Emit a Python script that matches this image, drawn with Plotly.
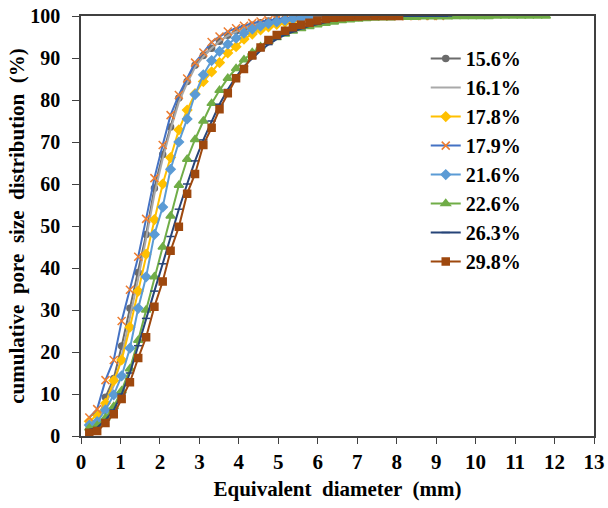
import plotly.graph_objects as go

# Equivalent diameter grid (mm) shared by all series (each uses a prefix)
diameter = [0.21, 0.41, 0.62, 0.83, 1.03, 1.24, 1.45, 1.65, 1.86, 2.07,
            2.27, 2.48, 2.69, 2.89, 3.10, 3.31, 3.51, 3.72, 3.93, 4.13,
            4.34, 4.55, 4.75, 4.96, 5.17, 5.37, 5.58, 5.79, 5.99, 6.20,
            6.41, 6.61, 6.82, 7.03, 7.23, 7.44, 7.65, 7.85, 8.06, 8.26,
            8.47, 8.68, 8.88, 9.09, 9.30, 9.50, 9.71, 9.92, 10.12, 10.33,
            10.54, 10.74, 10.95, 11.16, 11.36, 11.57, 11.78]

labels = ["15.6%", "16.1%", "17.8%", "17.9%", "21.6%", "22.6%", "26.3%", "29.8%"]

s156 = [2.4, 3.0, 9.2, 13.7, 21.4, 30.4, 38.9, 48.0, 59.0, 67.0, 73.6, 80.5, 84.4, 88.3, 90.6,
        92.3, 94.0, 95.4, 96.4, 97.2, 97.8, 98.4, 98.8, 99.1, 99.4, 99.6, 99.8, 99.9, 100, 100, 100]
s161 = [2.0, 2.8, 7.5, 12.0, 19.0, 28.0, 37.5, 47.0, 57.5, 66.0, 73.0, 79.5, 84.0, 87.8, 90.3,
        92.3, 94.0, 95.3, 96.3, 97.1, 97.8, 98.3, 98.7, 99.0, 99.3, 99.5, 99.7, 99.8, 99.9, 100, 100]
s178 = [3.5, 5.0, 7.8, 13.2, 18.1, 25.9, 34.5, 43.3, 51.5, 60.0, 66.3, 72.9, 77.6, 81.5, 84.4,
        86.7, 88.9, 91.2, 92.7, 94.5, 95.7, 96.7, 97.4, 98.0, 98.5, 98.9, 99.2, 99.5, 99.7, 99.8,
        99.9, 100, 100, 100]
s179 = [4.4, 6.4, 13.3, 18.1, 27.4, 34.8, 42.7, 51.7, 61.4, 69.3, 76.4, 81.2, 85.1, 88.9, 91.3,
        93.8, 95.1, 96.3, 97.1, 97.7, 98.3, 98.7, 99.0, 99.3, 99.5, 99.6, 99.7, 99.8, 99.9, 100,
        100, 100, 100, 100, 100, 100, 100, 100, 100, 100, 100, 100, 100, 100]
s216 = [2.6, 3.4, 6.2, 9.8, 14.3, 20.9, 30.4, 37.9, 48.0, 54.5, 63.5, 70.0, 75.5, 81.3, 86.0,
        89.4, 91.6, 93.3, 94.7, 95.9, 96.9, 97.6, 98.2, 98.6, 99.0, 99.3, 99.5, 99.7, 99.8, 99.9,
        100, 100]
s226 = [1.9, 2.5, 4.3, 7.0, 10.8, 16.0, 22.8, 30.0, 37.9, 45.0, 52.4, 59.7, 65.9, 70.6, 75.0,
        79.2, 82.3, 85.2, 87.5, 89.6, 91.3, 92.7, 93.9, 94.9, 95.7, 96.4, 97.0, 97.5, 97.9, 98.3,
        98.6, 98.9, 99.1, 99.3, 99.4, 99.5, 99.6, 99.6, 99.7, 99.7, 99.7, 99.8, 99.8, 99.8, 99.8,
        99.9, 99.9, 99.9, 99.9, 99.9, 100, 100, 100, 100, 100, 100, 100]
s263 = [1.5, 2.0, 3.8, 6.2, 10.0, 15.0, 21.5, 28.0, 34.5, 41.0, 47.5, 54.0, 60.0, 65.5, 70.5,
        75.0, 79.0, 82.5, 85.5, 88.0, 90.0, 91.8, 93.2, 94.5, 95.5, 96.3, 97.0, 97.6, 98.1, 98.5,
        98.9, 99.2, 99.4, 99.6, 99.7, 99.8, 99.9, 99.9, 100, 100, 100, 100, 100, 100, 100]
s298 = [0.8, 1.2, 3.1, 5.2, 8.8, 12.8, 18.6, 23.5, 30.8, 36.8, 44.1, 49.8, 57.7, 62.4, 69.3,
        73.4, 77.8, 81.6, 85.2, 87.4, 90.6, 92.5, 94.3, 95.5, 96.5, 97.3, 97.9, 98.4, 98.9, 99.3,
        99.6, 99.7, 99.8, 99.9, 100, 100, 100, 100, 100]

series = [s156, s161, s178, s179, s216, s226, s263, s298]

styles = [
    dict(line="#6b6b6b", symbol="circle", mcolor="#6b6b6b", size=6),
    dict(line="#a9a9a9", symbol=None, mcolor=None, size=0),
    dict(line="#ffc000", symbol="diamond", mcolor="#ffc000", size=7),
    dict(line="#4472c4", symbol="x-thin-open", mcolor="#ed7d31", size=8),
    dict(line="#5b9bd5", symbol="diamond", mcolor="#5b9bd5", size=7),
    dict(line="#70ad47", symbol="triangle-up", mcolor="#70ad47", size=8),
    dict(line="#264478", symbol="line-ew-open", mcolor="#264478", size=6),
    dict(line="#9e480e", symbol="square", mcolor="#9e480e", size=7),
]

fig = go.Figure()
for lab, vals, st in zip(labels, series, styles):
    if st["symbol"] is None:
        mode = "lines"
        marker = None
    else:
        mode = "lines+markers"
        marker = dict(symbol=st["symbol"], color=st["mcolor"], size=st["size"],
                      line=dict(color=st["mcolor"], width=1.5))
    fig.add_trace(go.Scatter(
        x=diameter[:len(vals)], y=vals, name=lab, mode=mode,
        line=dict(color=st["line"], width=2),
        marker=marker,
    ))

font_family = "Times New Roman, Liberation Serif, serif"
fig.update_layout(
    template="none",
    width=608, height=508,
    margin=dict(l=81, r=14, t=16, b=72, autoexpand=False),
    paper_bgcolor="white", plot_bgcolor="white",
    font=dict(family=font_family, color="black", size=20),
    legend=dict(x=0.672, y=0.945, xanchor="left", yanchor="top",
                font=dict(family=font_family, size=20, color="black", weight="bold"),
                bgcolor="rgba(0,0,0,0)", borderwidth=0, tracegroupgap=0, itemwidth=30),
    showlegend=True,
)
fig.update_xaxes(
    range=[0, 13], dtick=1, tick0=0, showgrid=False, zeroline=False, automargin=False,
    showline=True, linecolor="#404040", linewidth=1.5, mirror=True,
    ticks="outside", ticklen=6, tickcolor="#404040", tickwidth=1,
    tickfont=dict(family=font_family, size=21, color="black", weight="bold"),
    title=dict(text="Equivalent  diameter  (mm)", standoff=8,
               font=dict(family=font_family, size=21, color="black", weight="bold")),
)
fig.update_yaxes(
    range=[0, 100], dtick=10, tick0=0, showgrid=False, zeroline=False, automargin=False,
    showline=True, linecolor="#404040", linewidth=1.5, mirror=True,
    ticks="outside", ticklen=7, tickcolor="#404040", tickwidth=1,
    ticklabelstandoff=8,
    tickfont=dict(family=font_family, size=20, color="black", weight="bold"),
    title=dict(text="cumulative  pore  size  distribution  (%)", standoff=0,
               font=dict(family=font_family, size=21, color="black", weight="bold")),
)

fig.write_html("out.html")
